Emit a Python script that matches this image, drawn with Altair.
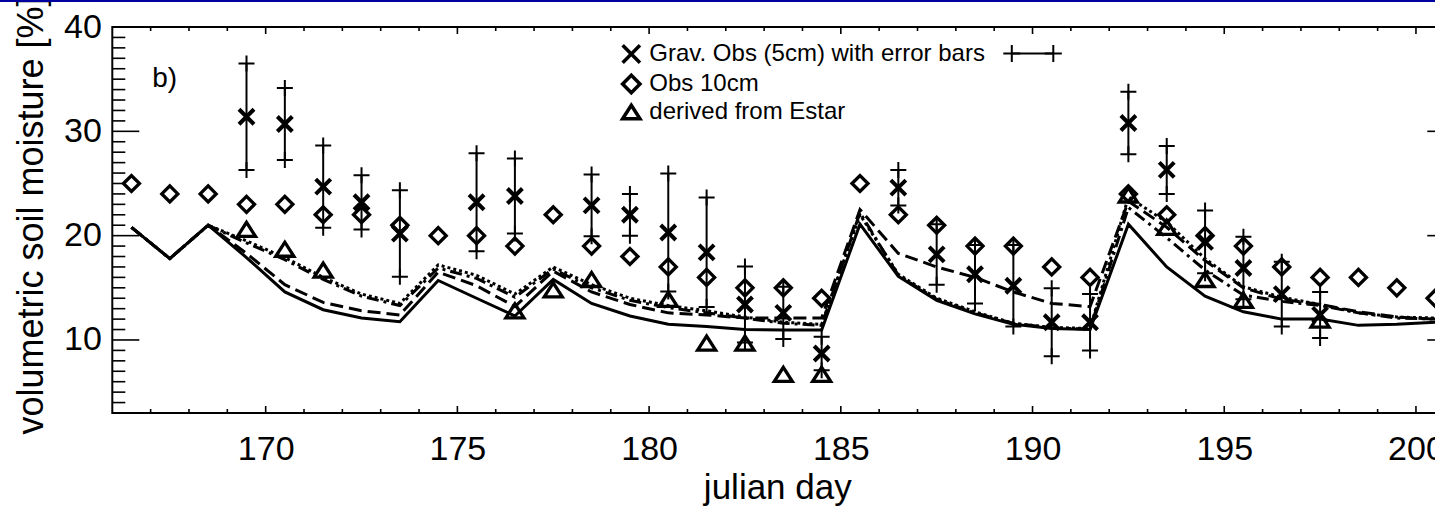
import altair as alt
import pandas as pd

FONT = "Liberation Sans"
W, H = 1342, 386

# ---------------- data ----------------
model_day = [166.5, 167.5, 168.5, 169.5, 170.5, 171.5, 172.5, 173.5, 174.5, 175.5,
             176.5, 177.5, 178.5, 179.5, 180.5, 181.5, 182.5, 183.5, 184.5, 185.5,
             186.5, 187.5, 188.5, 189.5, 190.5, 191.5, 192.5, 193.5, 194.5, 195.5,
             196.5, 197.5, 198.5, 199.5, 200.5]
solid = [20.8, 17.8, 21.0, 17.9, 14.6, 12.9, 12.1, 11.75, 15.7, 14.0,
         12.3, 15.8, 13.5, 12.3, 11.5, 11.3, 11.0, 10.95, 10.95, 21.1,
         16.1, 13.8, 12.5, 11.5, 11.1, 11.0, 21.1, 17.0, 14.2, 12.7,
         12.0, 12.0, 11.4, 11.5, 11.7]
dashed = [20.8, 17.8, 21.0, 18.3, 15.3, 13.6, 12.8, 12.4, 16.5, 15.2,
          13.2, 16.6, 14.6, 13.4, 12.6, 12.4, 12.1, 12.1, 12.1, 22.5,
          18.3, 17.0, 16.0, 14.6, 13.5, 13.2, 23.3, 20.8, 17.6, 15.0,
          13.9, 13.4, 12.7, 12.2, 12.0]
dotted = [20.8, 17.8, 21.0, 19.5, 17.9, 16.0, 14.4, 13.5, 17.2, 16.2,
          14.4, 17.0, 15.3, 14.0, 13.3, 12.8, 12.2, 11.7, 11.5, 22.0,
          16.3, 14.0, 12.7, 11.6, 11.2, 11.1, 23.7, 21.3, 17.8, 15.1,
          14.1, 13.4, 12.6, 12.2, 12.1]
dashdot = [20.8, 17.8, 21.0, 19.3, 17.7, 15.8, 14.2, 13.3, 16.9, 15.9,
           14.1, 16.8, 15.0, 13.8, 13.1, 12.6, 12.1, 11.6, 11.4, 22.2,
           16.2, 13.9, 12.6, 11.6, 11.15, 11.05, 22.7, 19.8, 16.7, 14.3,
           13.7, 13.3, 12.6, 12.1, 12.0]

obs10_day = model_day
obs10_val = [25, 24, 24, 23, 23, 22, 22, 21, 20, 20,
             19, 22, 19, 18, 17, 16, 15, 15, 14, 25,
             22, 21, 19, 19, 17, 16, 24, 22, 20, 19,
             17, 16, 16, 15, 14]

grav_day = [169.5, 170.5, 171.5, 172.5, 173.5, 175.5, 176.5, 178.5, 179.5, 180.5,
            181.5, 182.5, 183.5, 184.5, 186.5, 187.5, 188.5, 189.5, 190.5, 191.5,
            192.5, 193.5, 194.5, 195.5, 196.5, 197.5]
grav_val = [31.4, 30.7, 24.7, 23.2, 20.2, 23.2, 23.8, 22.9, 22.0, 20.3,
            18.4, 13.4, 12.6, 8.7, 24.6, 18.2, 16.3, 15.2, 11.7, 11.7,
            30.8, 26.3, 19.4, 16.9, 14.4, 12.4]
grav_err = [5.1, 3.45, 3.95, 2.6, 4.15, 4.7, 3.6, 2.95, 2.0, 5.65,
            5.25, 3.65, 2.5, 1.6, 1.7, 2.9, 2.8, 3.9, 3.25, 2.7,
            3.0, 2.3, 3.0, 3.0, 3.1, 2.2]

estar_day = [169.5, 170.5, 171.5, 176.5, 177.5, 178.5, 180.5, 181.5, 182.5, 183.5,
             184.5, 192.5, 193.5, 194.5, 195.5, 197.5]
estar_val = [20.6, 18.7, 16.7, 12.8, 14.8, 15.8, 13.9, 9.7, 9.7, 6.7,
             6.7, 23.9, 20.8, 15.8, 13.8, 11.9]

series_names = ["Grav. Obs (5cm) with error bars", "Obs 10cm", "derived from Estar"]

x_major = [170, 175, 180, 185, 190, 195, 200]
x_minor = [167, 168, 169, 171, 172, 173, 174, 176, 177, 178, 179, 181, 182, 183, 184,
           186, 187, 188, 189, 191, 192, 193, 194, 196, 197, 198, 199]
y_major = [10, 20, 30, 40]
y_minor = [4, 5, 6, 7, 8, 9, 11, 12, 13, 14, 15, 16, 17, 18, 19, 21, 22, 23, 24, 25,
           26, 27, 28, 29, 31, 32, 33, 34, 35, 36, 37, 38, 39]

# ---------------- tables ----------------
df_model = pd.DataFrame({"day": model_day, "solid": solid, "dashed": dashed,
                         "dotted": dotted, "dashdot": dashdot})
df_obs = pd.DataFrame({"day": obs10_day, "val": obs10_val, "series": series_names[1]})
df_grav = pd.DataFrame({"day": grav_day, "val": grav_val, "err": grav_err,
                        "series": series_names[0]})
df_grav["lo"] = df_grav["val"] - df_grav["err"]
df_grav["hi"] = df_grav["val"] + df_grav["err"]
df_est = pd.DataFrame({"day": estar_day, "val": estar_val, "series": series_names[2]})

# ---------------- scales / axes ----------------
xs = alt.Scale(domain=[166, 201], nice=False, zero=False)
ys = alt.Scale(domain=[3, 40], nice=False, zero=False)

xaxis = alt.Axis(values=x_major, format="d", labelFont=FONT, labelFontSize=34,
                 labelColor="black", labelPadding=19, labelFlush=False,
                 ticks=False, domain=False, grid=False,
                 title="julian day", titleFont=FONT, titleFontSize=35,
                 titleFontWeight="normal", titleColor="black",
                 titleX=665, titleY=85, titleBaseline="alphabetic", titleAlign="center")
yaxis = alt.Axis(values=y_major, format="d", labelFont=FONT, labelFontSize=34,
                 labelColor="black", labelPadding=11, labelFlush=False,
                 ticks=False, domain=False, grid=False,
                 title="volumetric soil moisture [%]", titleFont=FONT, titleFontSize=36,
                 titleFontWeight="normal", titleColor="black",
                 titleX=-70, titleY=188, titleAngle=270,
                 titleBaseline="alphabetic", titleAlign="center")


def X(f):
    return alt.X(f, type="quantitative", scale=xs, axis=xaxis)


def Y(f):
    return alt.Y(f, type="quantitative", scale=ys, axis=yaxis)


X_PATH = "M-1,-1L1,1M-1,1L1,-1"
DIAMOND = "M-1,0L0,-1L1,0L0,1Z"
TRIANGLE = "M-1,0.78L0,-0.78L1,0.78Z"
PLUS = "M-1,0L1,0M0,-1L0,1"

shape_scale = alt.Scale(domain=series_names, range=[X_PATH, DIAMOND, TRIANGLE])
legend = alt.Legend(orient="none", legendX=507, legendY=15, title=None,
                    labelFont=FONT, labelFontSize=24, labelColor="black",
                    labelLimit=600, labelOffset=6,
                    symbolSize=300, symbolStrokeWidth=3.5, symbolStrokeColor="black",
                    symbolFillColor="transparent", symbolOpacity=1,
                    rowPadding=-2, padding=0)

# ---------------- model lines ----------------
def model_line(field, dash):
    kw = dict(color="black", strokeWidth=3, strokeCap="butt", clip=True)
    if dash:
        kw["strokeDash"] = dash
    return alt.Chart(df_model).mark_line(**kw).encode(x=X("day"), y=Y(field))


lines = [model_line("dashdot", [12, 5, 3, 5]),
         model_line("dotted", [3, 3]),
         model_line("dashed", [13, 6]),
         model_line("solid", None)]

# ---------------- error bars ----------------
err_rule = alt.Chart(df_grav).mark_rule(color="black", strokeWidth=2).encode(
    x=X("day"), y=Y("lo"), y2="hi")
cap_lo = alt.Chart(df_grav).mark_point(shape=PLUS, size=256, strokeWidth=2, color="black",
                                       filled=False, opacity=1).encode(x=X("day"), y=Y("lo"))
cap_hi = alt.Chart(df_grav).mark_point(shape=PLUS, size=256, strokeWidth=2, color="black",
                                       filled=False, opacity=1).encode(x=X("day"), y=Y("hi"))

# ---------------- markers ----------------
def markers(df, size, sw):
    return alt.Chart(df).mark_point(filled=False, color="black", size=size,
                                    strokeWidth=sw, opacity=1).encode(
        x=X("day"), y=Y("val"),
        shape=alt.Shape("series:N", scale=shape_scale, legend=legend))


pts_grav = markers(df_grav, 225, 4)
pts_obs = markers(df_obs, 256, 3.3)
pts_est = markers(df_est, 324, 3.3)

# ---------------- frame ticks (inward) ----------------
def yticks(vals, length):
    d = pd.DataFrame({"v": vals})
    left = alt.Chart(d).mark_rule(color="black", strokeWidth=1.6).encode(
        y=Y("v"), x=alt.value(0), x2=alt.value(length))
    right = alt.Chart(d).mark_rule(color="black", strokeWidth=1.6).encode(
        y=Y("v"), x=alt.value(W), x2=alt.value(W - length))
    return [left, right]


def xticks(vals, length):
    d = pd.DataFrame({"v": vals})
    bottom = alt.Chart(d).mark_rule(color="black", strokeWidth=1.6).encode(
        x=X("v"), y=alt.value(H), y2=alt.value(H - length))
    top = alt.Chart(d).mark_rule(color="black", strokeWidth=1.6).encode(
        x=X("v"), y=alt.value(0), y2=alt.value(length))
    return [bottom, top]


ticks = yticks(y_major, 27) + yticks(y_minor, 13) + xticks(x_major, 7) + xticks(x_minor, 4)

# ---------------- annotations ----------------
panel = alt.Chart(pd.DataFrame({"label": ["b)"]})).mark_text(
    font=FONT, fontSize=28, align="left", baseline="alphabetic", color="black").encode(
    x=alt.value(40), y=alt.value(60), text="label:N")

leg_bar = alt.Chart(pd.DataFrame({"k": [0]})).mark_rule(color="black", strokeWidth=2).encode(
    x=alt.value(899), x2=alt.value(941), y=alt.value(26.5))
leg_cap1 = alt.Chart(pd.DataFrame({"k": [0]})).mark_point(
    shape=PLUS, size=289, strokeWidth=2, color="black", opacity=1).encode(
    x=alt.value(899.5), y=alt.value(26.5))
leg_cap2 = alt.Chart(pd.DataFrame({"k": [0]})).mark_point(
    shape=PLUS, size=289, strokeWidth=2, color="black", opacity=1).encode(
    x=alt.value(941), y=alt.value(26.5))

top_line = alt.Chart(pd.DataFrame({"k": [0]})).mark_rule(color="#0000a0", strokeWidth=2).encode(
    x=alt.value(-113), x2=alt.value(W), y=alt.value(-26))

chart = alt.layer(
    *ticks, *lines, err_rule, cap_lo, cap_hi, pts_obs, pts_est, pts_grav,
    panel, leg_bar, leg_cap1, leg_cap2, top_line
).properties(
    width=W, height=H,
    padding={"left": 112.3, "top": 27, "right": -19.3, "bottom": 94},
    autosize=alt.AutoSizeParams(type="none"),
    background="white",
).configure_view(stroke="black", strokeWidth=2)

chart.save("out.html", embed_options={"renderer": "svg", "actions": False})
